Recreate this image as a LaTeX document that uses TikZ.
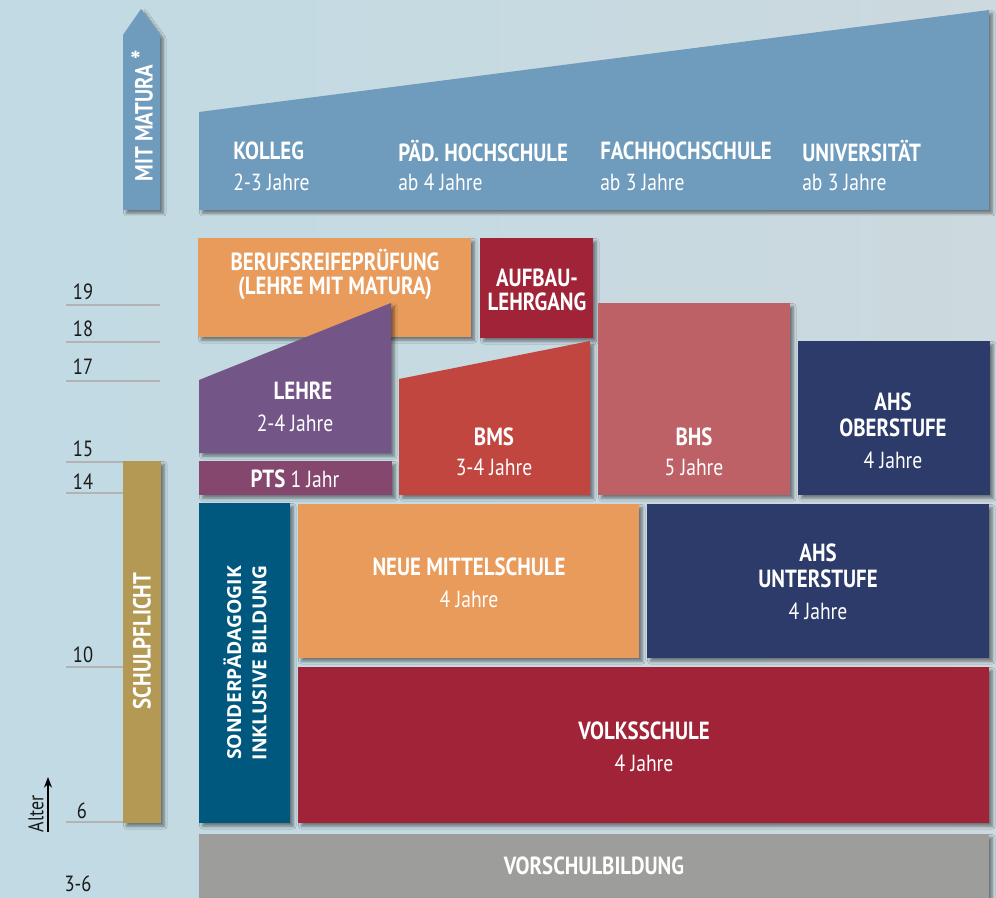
\documentclass[tikz,border=0pt]{standalone}
\usepackage{fontspec}
\setmainfont[FakeStretch=0.84]{PT Sans}
\newfontfamily\widefont{Open Sans}
\usetikzlibrary{shadows.blur,arrows.meta}
\definecolor{bg}{HTML}{C1DAE3}
\definecolor{bgr}{HTML}{CCD9DF}
\definecolor{steel}{HTML}{6F9BBD}
\definecolor{orng}{HTML}{E89B5B}
\definecolor{wine}{HTML}{A12337}
\definecolor{lila}{HTML}{735587}
\definecolor{plum}{HTML}{86476F}
\definecolor{brick}{HTML}{C0463F}
\definecolor{rose}{HTML}{BD6167}
\definecolor{navy}{HTML}{2C3B6A}
\definecolor{petrol}{HTML}{00587F}
\definecolor{stone}{HTML}{9D9D9C}
\definecolor{gold}{HTML}{B39954}
\definecolor{agegray}{HTML}{B3B3B3}
\definecolor{agetext}{HTML}{1A1A1A}
\tikzset{
 blk/.style={blur shadow={shadow xshift=2.5pt,shadow yshift=-2.5pt,shadow blur steps=6,shadow opacity=45,shadow blur radius=2pt}},
 ttl/.style={text=white,font=\bfseries\fontsize{18.6}{21}\selectfont,inner sep=0},
 sub/.style={text=white,font=\fontsize{17.5}{20}\selectfont,inner sep=0},
 age/.style={text=agetext,font=\fontsize{16.5}{19}\selectfont,inner sep=0},
 ageline/.style={draw=agegray,line width=1.6pt},
}
\begin{document}
\begin{tikzpicture}[x=0.75pt,y=-0.75pt]
\useasboundingbox (0,0) rectangle (996,898);
\shade[left color=bg,right color=bgr] (0,0) rectangle (996,898);

% age lines
\foreach \yy/\lab in {305/19,342/18,381/17,462/15,493/14,667/10,822/6}{
  \draw[ageline] (66,\yy) -- (160,\yy);
}
\node[age] (a19) at (83,292) {19};
\node[age] (a18) at (83,329) {18};
\node[age] (a17) at (83,367) {17};
\node[age] (a15) at (83,449) {15};
\node[age] (a14) at (83,482) {14};
\node[age] (a10) at (83,655) {10};
\node[age] (a6) at (82,811) {6};
\node[age] (a36) at (78,884) {3-6};
\coordinate (altbot) at (48,832);
\coordinate (alttop) at (48,777);
\draw[line width=1pt,-{Stealth[length=8pt,width=6pt]}] (altbot) -- (alttop);
\node[age,rotate=90,font=\fontsize{16}{18}\selectfont] (alter) at (36,814) {Alter};

% MIT MATURA arrow
\fill[steel,blk] (123,210) -- (123,35) -- (141,9) -- (160,35) -- (160,210) -- cycle;
\node[ttl,rotate=90] (matura) at (142,116) {MIT MATURA {\fontsize{22}{22}\selectfont*}};

% top band
\fill[steel,blk] (199,210) -- (199,112) -- (989,10) -- (989,210) -- cycle;
\node[ttl,anchor=west] (kolleg) at (233,151) {KOLLEG};
\node[sub,anchor=west] (kollegj) at (233,182) {2-3 Jahre};
\node[ttl,anchor=west] (paed) at (398,151) {PÄD. HOCHSCHULE};
\node[sub,anchor=west] (paedj) at (398,182) {ab 4 Jahre};
\node[ttl,anchor=west] (fh) at (600,151) {FACHHOCHSCHULE};
\node[sub,anchor=west] (fhj) at (600,182) {ab 3 Jahre};
\node[ttl,anchor=west] (uni) at (802,151) {UNIVERSITÄT};
\node[sub,anchor=west] (unij) at (802,182) {ab 3 Jahre};

% Berufsreifepruefung
\fill[orng,blk] (198,238) rectangle (471,337);
\node[ttl] (brp1) at (335,260) {BERUFSREIFEPRÜFUNG};
\node[ttl] (brp2) at (335,288) {(LEHRE MIT MATURA)};

% Aufbaulehrgang
\fill[wine,blk] (480,238) rectangle (593,338);
\node[ttl] (auf1) at (537,278) {AUFBAU-};
\node[ttl] (auf2) at (537,302) {LEHRGANG};

% Lehre
\fill[lila,blk] (199,453) -- (199,380) -- (391,303) -- (391,453) -- cycle;
\node[ttl] (lehre) at (303,391) {LEHRE};
\node[sub] (lehrej) at (295,423) {2-4 Jahre};

% PTS
\fill[plum,blk] (199,461) rectangle (392,495);
\node[sub] (pts) at (295,479) {{\fontsize{18.6}{21}\selectfont\bfseries PTS} 1 Jahr};

% BMS
\fill[brick,blk] (399,495) -- (399,379) -- (590,341) -- (590,495) -- cycle;
\node[ttl] (bms) at (494,437) {BMS};
\node[sub] (bmsj) at (494,467) {3-4 Jahre};

% BHS
\fill[rose,blk] (598,303) rectangle (790,495);
\node[ttl] (bhs) at (694,437) {BHS};
\node[sub] (bhsj) at (694,467) {5 Jahre};

% AHS Oberstufe
\fill[navy,blk] (798,341) rectangle (990,495);
\node[ttl] (ahso1) at (893,402) {AHS};
\node[ttl] (ahso2) at (893,428) {OBERSTUFE};
\node[sub] (ahsoj) at (893,460) {4 Jahre};

% Schulpflicht
\fill[gold,blk] (123,461) rectangle (161,823);
\node[ttl,rotate=90] (spf) at (142,641) {SCHULPFLICHT};

% Sonderpaedagogik
\fill[petrol,blk] (199,503) rectangle (290,823);
\node[text=white,rotate=90,align=center,inner sep=0,font=\widefont\bfseries\fontsize{14.5}{19}\selectfont] (sonder) at (245,663) {SONDERPÄDAGOGIK\\INKLUSIVE BILDUNG};

% Neue Mittelschule
\fill[orng,blk] (298,504) rectangle (639,658);
\node[ttl] (nms) at (469,567) {NEUE MITTELSCHULE};
\node[sub] (nmsj) at (469,599) {4 Jahre};

% AHS Unterstufe
\fill[navy,blk] (647,504) rectangle (989,658);
\node[ttl] (ahsu1) at (818,553) {AHS};
\node[ttl] (ahsu2) at (818,579) {UNTERSTUFE};
\node[sub] (ahsuj) at (818,611) {4 Jahre};

% Volksschule
\fill[wine,blk] (298,667) rectangle (989,823);
\node[ttl] (vs) at (644,731) {VOLKSSCHULE};
\node[sub] (vsj) at (644,763) {4 Jahre};

% Vorschulbildung
\fill[stone,blk] (199,834) rectangle (989,905);
\node[ttl] (vsb) at (594,866) {VORSCHULBILDUNG};
\end{tikzpicture}
\end{document}
